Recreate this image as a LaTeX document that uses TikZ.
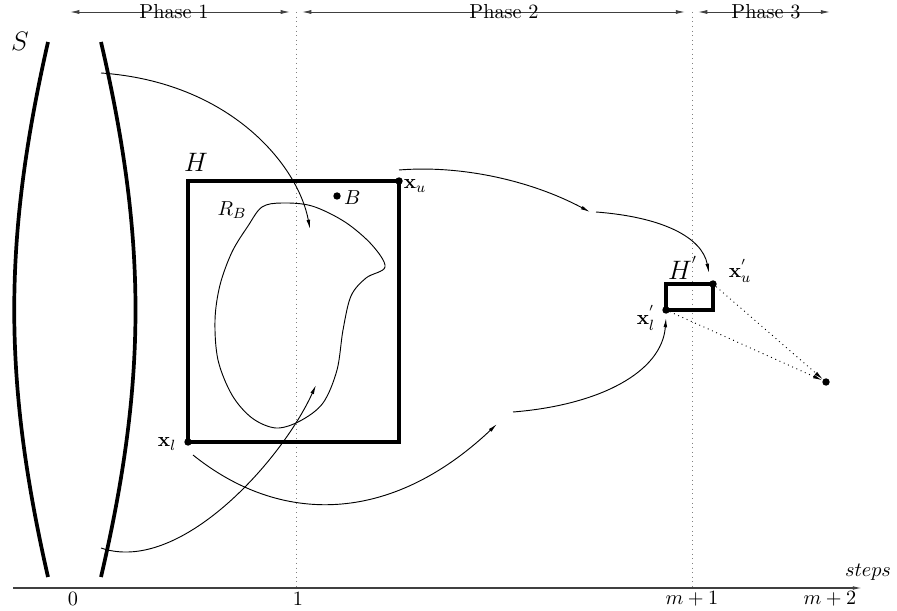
\documentclass[tikz,border=0pt,11pt]{standalone}
\usetikzlibrary{arrows.meta}
\begin{document}
\begin{tikzpicture}[x=0.54pt,y=-0.54pt,
 tip/.style={-{Latex[length=5pt,width=2pt]},line width=0.5pt},
 thickline/.style={line width=2pt},
 dot/.style={circle,fill,inner sep=0pt,minimum size=4pt},
 guide/.style={dotted,line width=0.5pt,gray},
 phase/.style={{Latex[length=5pt,width=2.2pt]}-{Latex[length=5pt,width=2.2pt]},line width=0.5pt,black!75},
 dotarrow/.style={dotted,-{Latex[length=5pt,width=2pt]},line width=0.5pt},
 big/.style={font=\Large,inner sep=1pt}
]
\useasboundingbox (0,0) rectangle (897,611);
% axis
\coordinate (ax0) at (13,588);
\coordinate (ax1) at (862,588);
\draw[-{Latex[length=5pt,width=2pt]},line width=0.6pt,black!75] (ax0) -- (ax1);
\node (l0) at (73,599) {$0$};
\node (l1) at (298,599) {$1$};
\node (lm1) at (692,599) {$m+1$};
\node (lm2) at (830,599) {$m+2$};
\node (steps) at (868,572) {$steps$};
% guides
\coordinate (g1t) at (296,12); \coordinate (g1b) at (296,588);
\coordinate (g2t) at (692,12); \coordinate (g2b) at (692,588);
\draw[guide] (g1t) -- (g1b);
\draw[guide] (g2t) -- (g2b);
% phases
\coordinate (p1a) at (70,12); \coordinate (p1b) at (290,12);
\coordinate (p2a) at (302,12); \coordinate (p2b) at (685,12);
\coordinate (p3a) at (698,12); \coordinate (p3b) at (830,12);
\draw[phase] (p1a) -- (p1b);
\draw[phase] (p2a) -- (p2b);
\draw[phase] (p3a) -- (p3b);
\node (ph1) at (174,12) {Phase 1};
\node (ph2) at (504,12) {Phase 2};
\node (ph3) at (766,12) {Phase 3};
% S
\node[big] (S) at (20,41) {$S$};
\coordinate (sl1) at (48,42); \coordinate (sl2) at (48,577);
\coordinate (sr1) at (101,42); \coordinate (sr2) at (101,577);
\draw[thickline] (sl1) .. controls (3,240) and (3,380) .. (sl2);
\draw[thickline] (sr1) .. controls (147,240) and (147,380) .. (sr2);
% H
\draw[thickline] (188,181) rectangle (399,442);
\node[big] (H) at (196,162) {$H$};
\node[dot] (xu) at (399,181) {};
\node[dot] (xl) at (188,442) {};
\node (xulab) at (415,186) {$\mathbf{x}_u$};
\node (xllab) at (167,444) {$\mathbf{x}_l$};
\node[dot] (B) at (337,196) {};
\node[anchor=west,inner sep=1pt] (Blab) at (342,198) {$B$};
\node (RB) at (232,210) {$R_B$};
\draw[line width=0.5pt] plot[smooth cycle,tension=0.55] coordinates {(262,207) (282,203) (312,206) (345,222) (372,245) (385,267) (366,278) (351,296) (343,330) (337,370) (323,403) (300,421) (276,428) (252,418) (232,395) (218,360) (215,320) (220,285) (232,252) (248,226)};
% H'
\draw[thickline] (666,284) rectangle (713,310);
\node[big] (Hp) at (683,268) {$H^{'}$};
\node[dot] (xup) at (713,284) {};
\node[dot] (xlp) at (666,310) {};
\node (xuplab) at (740,271) {$\mathbf{x}^{'}_{u}$};
\node (xlplab) at (646,318) {$\mathbf{x}^{'}_{l}$};
\node[dot] (fin) at (826,382) {};
% trajectories
\coordinate (a1s) at (101,73); \coordinate (a1e) at (310,229);
\draw[tip] (a1s) .. controls (230,82) and (298,165) .. (a1e);
\coordinate (a2s) at (101,548); \coordinate (a2e) at (316,385);
\draw[tip] (a2s) .. controls (180,575) and (282,460) .. (a2e);
\coordinate (a3s) at (399,170); \coordinate (a3e) at (590,212);
\draw[tip] (a3s) .. controls (460,165) and (530,180) .. (a3e);
\coordinate (a4s) at (596,212); \coordinate (a4e) at (709,273);
\draw[tip] (a4s) .. controls (662,217) and (702,237) .. (a4e);
\coordinate (a5s) at (193,455); \coordinate (a5e) at (497,424);
\draw[tip] (a5s) .. controls (280,525) and (390,525) .. (a5e);
\coordinate (a6s) at (513,412); \coordinate (a6e) at (666,318);
\draw[tip] (a6s) .. controls (600,405) and (662,372) .. (a6e);
\draw[dotarrow] (xup) -- (fin);
\draw[dotarrow] (xlp) -- (fin);
\end{tikzpicture}
\end{document}
